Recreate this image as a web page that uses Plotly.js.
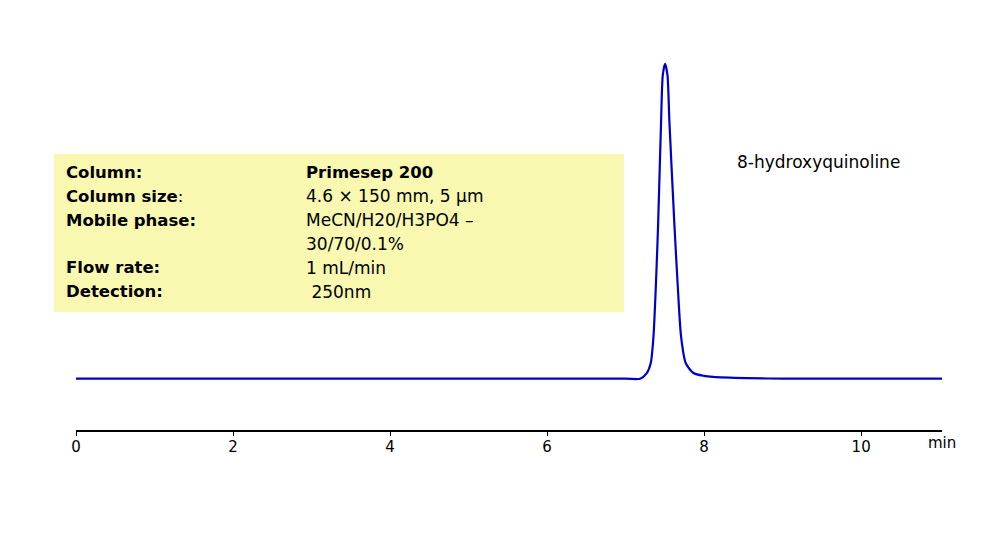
<!DOCTYPE html>
<html>
<head>
<meta charset="utf-8">
<script src="https://cdn.plot.ly/plotly-3.0.1.min.js"></script>
<style>
  html, body { margin: 0; padding: 0; background: #ffffff; }
  #plot { width: 999px; height: 549px; }
</style>
</head>
<body>
<div id="plot"></div>
<script>
// chromatogram trace (time in min, relative absorbance)
//
const time_min = [0, 7.0, 7.185, 7.27, 7.32, 7.355, 7.385, 7.414, 7.452, 7.474,
                  7.503, 7.533, 7.558, 7.622, 7.665, 7.707, 7.767, 7.864, 8.0,
                  8.115, 8.54, 9.0, 11.03];
const absorbance = [0, 0, 0, 1.8, 4.9, 13.3, 29.2, 48.8, 81.7, 96.5,
                    100, 96.5, 81.7, 48.8, 29.2, 13.3, 4.9, 1.8, 0.9,
                    0.6, 0.2, 0, 0];

// axis ticks
//
const tick_vals = [0, 2, 4, 6, 8, 10];
const tick_text = ['0', '2', '4', '6', '8', '10'];

// peak label and method conditions
//
const peak_label = '8-hydroxyquinoline';
const cond_names = ['<b>Column:</b>', '<b>Column size</b>:', '<b>Mobile phase:</b>',
                    '', '<b>Flow rate:</b>', '<b>Detection:</b>'];
const cond_values = ['<b>Primesep 200</b>', '4.6 × 150 mm, 5 µm', 'MeCN/H20/H3PO4 –',
                     '30/70/0.1%', '1 mL/min', ' 250nm'];

// plot area in pixels
//
const W = 999, H = 549;
const M = { l: 76, r: 57, t: 40, b: 119 };
const PW = W - M.l - M.r;
const PH = H - M.t - M.b;

// convert pixel positions to paper coordinates
//
function px(x) { return (x - M.l) / PW; }
function py(y) { return 1 - (y - M.t) / PH; }

const font_name = 'DejaVu Sans, Arial, sans-serif';

// build the condition annotations
//
let annotations = [];
for (let i = 0; i < cond_names.length; i++) {
  const yc = py(172.5 + i * 23.8);
  if (cond_names[i] !== '') {
    annotations.push({
      xref: 'paper', yref: 'paper', x: px(64), y: yc,
      xanchor: 'left', yanchor: 'middle', showarrow: false,
      text: cond_names[i],
      font: { family: font_name, size: 16.5, color: '#000000' }
    });
  }
  annotations.push({
    xref: 'paper', yref: 'paper', x: px(304), y: yc,
    xanchor: 'left', yanchor: 'middle', showarrow: false,
    text: cond_values[i],
    font: { family: font_name, size: i === 0 ? 16.5 : 17, color: '#000000' }
  });
}

// compound name and axis unit
//
annotations.push({
  xref: 'paper', yref: 'paper', x: px(735), y: py(162),
  xanchor: 'left', yanchor: 'middle', showarrow: false,
  text: peak_label,
  font: { family: font_name, size: 17, color: '#000000' }
});
annotations.push({
  xref: 'paper', yref: 'paper', x: px(942), y: py(443),
  xanchor: 'center', yanchor: 'middle', showarrow: false,
  text: 'min',
  font: { family: font_name, size: 15, color: '#000000' }
});

const trace = {
  x: time_min,
  y: absorbance,
  type: 'scatter',
  mode: 'lines',
  line: { color: '#0000cc', width: 2.2, shape: 'spline', smoothing: 0.7 },
  hoverinfo: 'none'
};

const layout = {
  width: W,
  height: H,
  margin: M,
  paper_bgcolor: '#ffffff',
  plot_bgcolor: '#ffffff',
  showlegend: false,
  xaxis: {
    range: [0, 11.03],
    tickvals: tick_vals,
    ticktext: tick_text,
    ticks: 'outside',
    ticklen: 4,
    tickwidth: 1,
    tickcolor: '#000000',
    ticklabelstandoff: -2,
    showline: true,
    linecolor: '#000000',
    linewidth: 1.5,
    showgrid: false,
    zeroline: false,
    tickfont: { family: font_name, size: 15, color: '#000000' }
  },
  yaxis: {
    range: [-16.3, 107.6],
    visible: false,
    showgrid: false,
    zeroline: false
  },
  shapes: [{
    type: 'rect', xref: 'paper', yref: 'paper', layer: 'below',
    x0: px(54), x1: px(624), y0: py(312), y1: py(154),
    fillcolor: '#f8f8b0', line: { width: 0 }
  }],
  annotations: annotations
};

Plotly.newPlot('plot', [trace], layout, { displayModeBar: false, staticPlot: true });
</script>
</body>
</html>
